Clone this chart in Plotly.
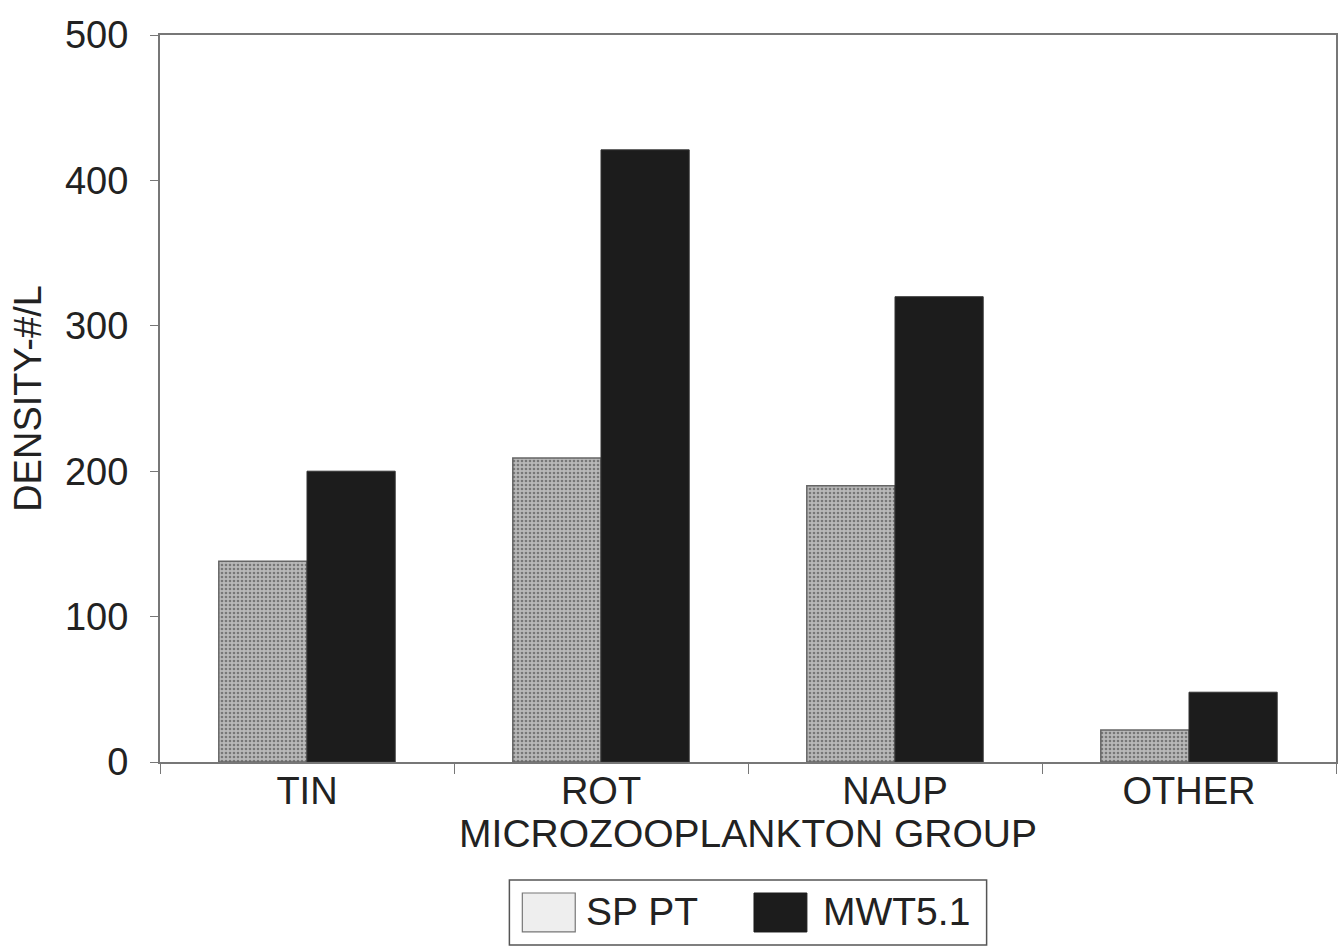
import plotly.graph_objects as go

categories = ["TIN", "ROT", "NAUP", "OTHER"]
sp_pt = [138, 209, 190, 22]
mwt51 = [200, 421, 320, 48]
y_ticks = [0, 100, 200, 300, 400, 500]
series_names = ["SP PT", "MWT5.1"]

FONT = "Liberation Sans, Arial, sans-serif"

fig = go.Figure()
fig.add_trace(go.Bar(
    x=categories, y=sp_pt, name=series_names[0],
    marker=dict(color="#b0b0b0",
                line=dict(color="#666666", width=1.5),
                pattern=dict(shape=".", fgcolor="#777777", bgcolor="#b8b8b8",
                             size=4, solidity=0.35, fillmode="replace")),
))
fig.add_trace(go.Bar(
    x=categories, y=mwt51, name=series_names[1],
    marker=dict(color="#1c1c1c", line=dict(color="#333333", width=1)),
))

# legend drawn as a framed box below the plot (paper coordinates)
shapes = [
    dict(type="rect", xref="paper", yref="paper", x0=0.2971, x1=0.7029,
         y0=-0.2517, y1=-0.1623, line=dict(color="#555555", width=1.5),
         fillcolor="white", layer="above"),
    dict(type="rect", xref="paper", yref="paper", x0=0.3081, x1=0.3531,
         y0=-0.2338, y1=-0.1802, line=dict(color="#777777", width=1.2),
         fillcolor="#eeeeee", layer="above"),
    dict(type="rect", xref="paper", yref="paper", x0=0.5051, x1=0.5501,
         y0=-0.2338, y1=-0.1802, line=dict(color="#1c1c1c", width=1),
         fillcolor="#1c1c1c", layer="above"),
]
annotations = [
    dict(text=series_names[0], xref="paper", yref="paper", x=0.3608, y=-0.2063,
         xanchor="left", yanchor="middle", showarrow=False,
         font=dict(size=39, family=FONT, color="#222222")),
    dict(text=series_names[1], xref="paper", yref="paper", x=0.5620, y=-0.2063,
         xanchor="left", yanchor="middle", showarrow=False,
         font=dict(size=39, family=FONT, color="#222222")),
]

fig.update_layout(
    width=1343, height=947,
    margin=dict(l=160, r=5, t=35, b=185),
    paper_bgcolor="white", plot_bgcolor="white",
    barmode="group", bargap=0.4, bargroupgap=0,
    font=dict(family=FONT, size=38, color="#222222"),
    showlegend=False,
    shapes=shapes, annotations=annotations,
)
fig.update_xaxes(
    showline=True, linecolor="#777777", linewidth=2, mirror=True,
    ticks="outside", tickson="boundaries", ticklen=10, tickcolor="#777777",
    tickfont=dict(size=38), ticklabelstandoff=-6,
    title=dict(text="MICROZOOPLANKTON GROUP", font=dict(size=39), standoff=0),
    showgrid=False,
)
fig.update_yaxes(
    range=[0, 500], tickvals=y_ticks,
    showline=True, linecolor="#777777", linewidth=2, mirror=True,
    ticks="outside", ticklen=8, tickcolor="#777777",
    tickfont=dict(size=38), ticklabelstandoff=14,
    title=dict(text="DENSITY-#/L", font=dict(size=38), standoff=12),
    showgrid=False, zeroline=False,
)

fig.write_html("out.html")
